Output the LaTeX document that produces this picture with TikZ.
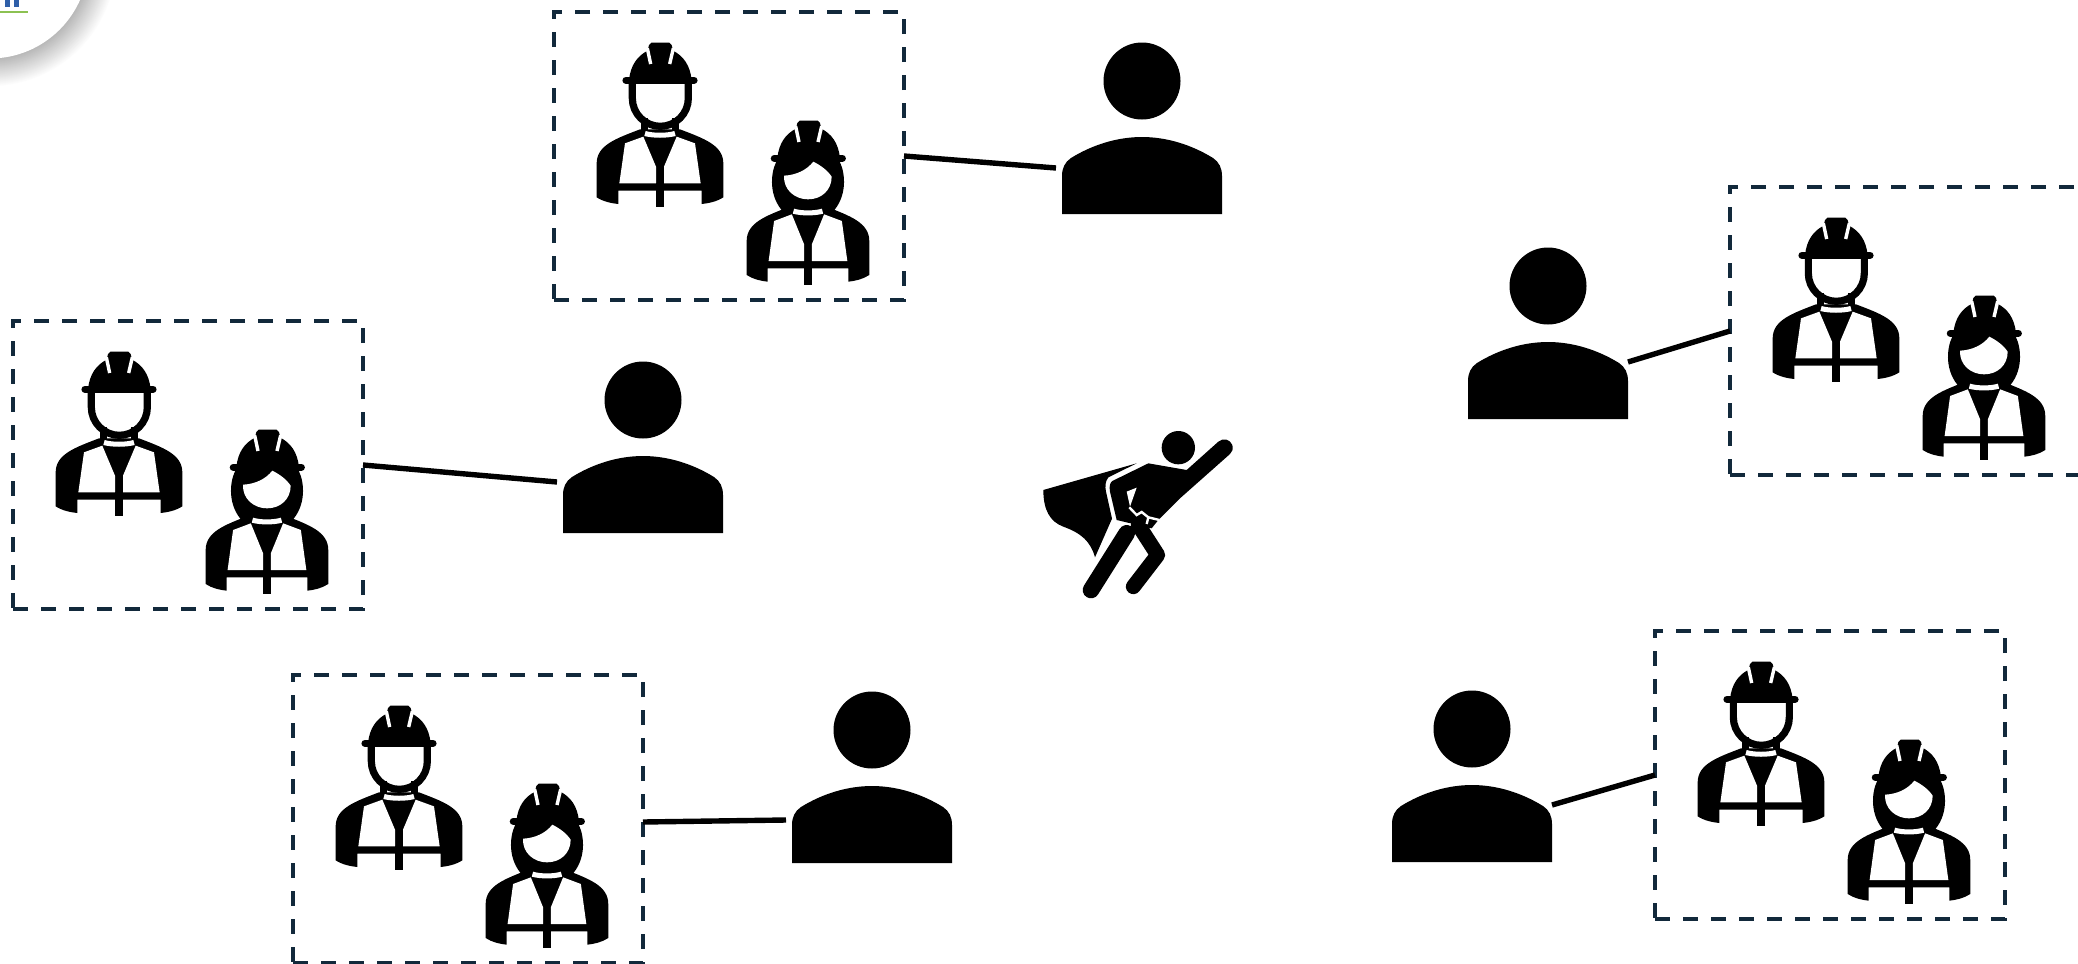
\documentclass[tikz,border=0pt]{standalone}
\definecolor{dashblue}{HTML}{12293B}
\definecolor{logoblue}{HTML}{2F5FA8}
\definecolor{logogreen}{HTML}{8CC152}
\newcommand{\helmet}{
    \fill (147,150) .. controls (152,105) and (172,78) .. (203,62) -- (207,45) -- (214,38) -- (268,38) -- (275,45) -- (279,62) .. controls (310,78) and (330,105) .. (335,150) -- cycle;
    \draw[line width=3.6pt, line cap=round] (138,151) -- (342,151);
    \draw[white, line width=1.7pt] (202,55) -- (212,102);
    \draw[white, line width=1.7pt] (280,55) -- (269,102);
}
\newcommand{\torso}{
    \fill (180,298) .. controls (110,325) and (50,345) .. (50,400) -- (50,502) .. controls (70,515) and (95,520) .. (115,522) -- (115,482) -- (365,482) -- (365,522) .. controls (385,520) and (410,515) .. (430,502) -- (430,400) .. controls (430,345) and (370,325) .. (300,298) -- cycle;
    \fill[white] (135,340) -- (190,320) -- (228,410) -- (228,460) -- (118,460) -- cycle;
    \fill[white] (345,340) -- (290,320) -- (252,410) -- (252,460) -- (362,460) -- cycle;
    \fill (228,460) rectangle (252,532);
    \fill[white] (197,303) .. controls (220,310) and (260,310) .. (283,303) -- (287,318) .. controls (260,325) and (220,325) .. (193,318) -- cycle;
}
\tikzset{
    crewbox/.style={draw=dashblue, line width=2pt, dash pattern=on 7.5pt off 6.5pt, minimum width=175pt, minimum height=144pt, inner sep=0pt, outer sep=0pt},
    link/.style={line width=2.7pt},
    person/.pic={
        \fill (0,0) circle[radius=38.5];
        \fill (-80,133) -- (-80,95) .. controls (-80,87) and (-77,81) .. (-71,77) .. controls (-50,64) and (-25,56) .. (0,56) .. controls (25,56) and (50,64) .. (71,77) .. controls (77,81) and (80,87) .. (80,95) -- (80,133) -- cycle;
        \coordinate (-west) at (-86,87);
        \coordinate (-east) at (80,76);
    },
    workers/.pic={
        \begin{scope}[shift={(26,18)}, scale=1/3]
            \helmet
            \draw[line width=3.6pt] (157,155) -- (157,205) .. controls (157,251) and (195,289) .. (241,289) .. controls (287,289) and (325,251) .. (325,205) -- (325,155);
            \torso
            \draw[line width=3.4pt] (193,265) -- (193,302);
            \draw[line width=3.4pt] (287,265) -- (287,302);
            \fill (590,385) -- (588,397) .. controls (572,430) and (565,500) .. (612,548) -- (756,548) .. controls (803,500) and (796,430) .. (780,397) -- (778,385) -- cycle;
            \begin{scope}[shift={(445,234)}]
                \helmet
            \end{scope}
            \begin{scope}[shift={(451.6,233)}, xscale=0.968]
                \torso
            \end{scope}
            \fill[white] (612,437) .. controls (650,435) and (680,420) .. (700,395) .. controls (720,405) and (742,420) .. (755,440) .. controls (755,480) and (725,508) .. (684,508) .. controls (645,508) and (610,480) .. (612,437) -- cycle;
        \end{scope}
    }
}
\begin{document}
\begin{tikzpicture}[x=0.5pt, y=-0.5pt]
    \useasboundingbox (0,0) rectangle (2078,964);
    \clip (0,0) rectangle (2078,964);
    \foreach \r in {0,...,28}
        \fill[black!\r] (-10,-40) circle[radius=127-\r];
    \fill[white] (-10,-40) circle[radius=98.5];
    \fill[logoblue] (5,0) rectangle (10,7);
    \fill[logoblue] (14,0) rectangle (19,7);
    \draw[logogreen, line width=0.6pt] (0,12) -- (28,12);

    \node[crewbox] (box1) at (729,156) {};
    \node[crewbox] (box2) at (188,465) {};
    \node[crewbox] (box3) at (468,819) {};
    \node[crewbox] (box4) at (1905,331) {};
    \node[crewbox] (box5) at (1830,775) {};
    \pic at (box1.north west) {workers};
    \pic at (box2.north west) {workers};
    \pic at (box3.north west) {workers};
    \pic at (box4.north west) {workers};
    \pic at (box5.north west) {workers};

    \pic (p1) at (1142,81) {person};
    \pic (p2) at (643,400) {person};
    \pic (p3) at (872,730) {person};
    \pic (p4) at (1548,286) {person};
    \pic (p5) at (1472,729) {person};

    \draw[link] (box1.east) -- (p1-west);
    \draw[link] (box2.east) -- ([yshift=2.5pt]p2-west);
    \draw[link] ([yshift=-1.5pt]box3.east) -- ([yshift=-1.5pt]p3-west);
    \draw[link] (box4.west) -- (p4-east);
    \draw[link] (box5.west) -- (p5-east);

    \begin{scope}[shift={(1020,420)}, scale=1/3]
        \fill (475,83) circle[radius=50];
        \fill (70,210) -- (350,130) -- (265,172) .. controls (255,185) and (255,200) .. (258,215) -- (276,296) -- (225,412) .. controls (212,365) and (185,340) .. (130,320) .. controls (90,305) and (70,270) .. (70,210) -- cycle;
        \fill (385,130) -- (500,150) -- (595,65) .. controls (610,52) and (630,58) .. (637,75) .. controls (640,88) and (637,95) .. (630,102) -- (480,235) -- (415,300) -- (395,325) -- (290,300) -- (270,215) .. controls (268,200) and (268,190) .. (277,183) -- cycle;
        \draw[line width=8.3pt, line cap=round] (320,340) -- (213,510);
        \draw[line width=7.5pt, line cap=round, line join=round] (355,315) -- (413,405) -- (340,500);
        \fill[white] (320,215) -- (350,203) -- (330,260) -- cycle;
        \draw[white, line width=1.2pt] (328,262) -- (350,285) -- (365,276) -- (385,292) -- (380,312);
        \draw[white, line width=1.2pt] (385,292) -- (418,300);
    \end{scope}
\end{tikzpicture}
\end{document}
